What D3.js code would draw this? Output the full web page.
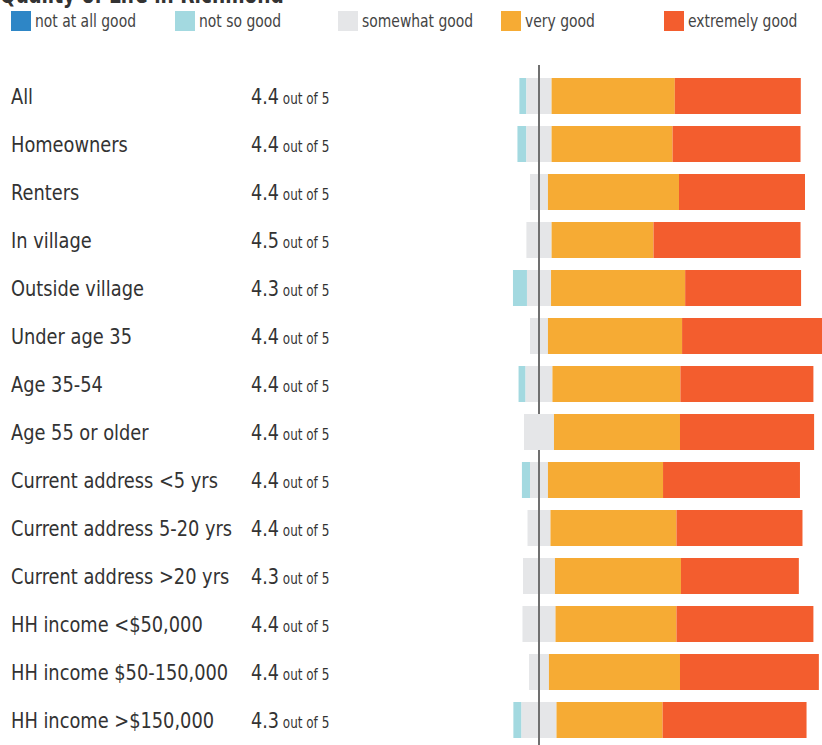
<!DOCTYPE html>
<html>
<head>
<meta charset="utf-8">
<script src="https://cdn.jsdelivr.net/npm/d3@7"></script>
<style>
  body { margin: 0; background: #fff; }
  svg text { font-family: "DejaVu Sans Condensed", "DejaVu Sans", sans-serif; fill: #333; }
</style>
</head>
<body>
<div id="chart"></div>
<script>
// Quality of Life in Richmond - diverging stacked bars

const groups = ['All', 'Homeowners', 'Renters', 'In village', 'Outside village',
  'Under age 35', 'Age 35-54', 'Age 55 or older', 'Current address <5 yrs',
  'Current address 5-20 yrs', 'Current address >20 yrs', 'HH income <$50,000',
  'HH income $50-150,000', 'HH income >$150,000'];
const scores = [4.4, 4.4, 4.4, 4.5, 4.3, 4.4, 4.4, 4.4, 4.4, 4.4, 4.3, 4.4, 4.4, 4.3];

const categories = ['not at all good', 'not so good', 'somewhat good', 'very good', 'extremely good'];
const colors = ['#2e86c6', '#a3d9e0', '#e5e6e8', '#f6ab34', '#f35d2e'];

// percentages per group
const notAtAllGood  = [0, 0, 0, 0, 0, 0, 0, 0, 0, 0, 0, 0, 0, 0];
const notSoGood     = [2.5, 3.2, 0, 0, 5, 0, 2.5, 0, 2.9, 0, 0, 0, 0, 2.9];
const somewhatGood  = [9, 9, 6.4, 9, 8.6, 6.4, 9.6, 10.7, 6.4, 8.2, 11.4, 11.8, 7.1, 12.5];
const veryGood      = [44, 43.2, 46.8, 36.4, 47.9, 47.9, 45.7, 45, 41.1, 45, 45, 43.2, 46.8, 37.9];
const extremelyGood = [45, 45.7, 45, 52.5, 41.4, 50, 47.5, 47.9, 48.9, 45, 42.1, 48.9, 49.6, 51.4];

const width = 822, height = 745;
const margin = {top: 78, bottom: 7};

const svg = d3.select('#chart').append('svg')
  .attr('width', width)
  .attr('height', height);

// title (cut off at the top in the original)
svg.append('text')
  .attr('transform', 'translate(0,3) scale(0.86,1)')
  .style('font-weight', 'bold')
  .style('font-size', '24px')
  .text('Quality of Life in Richmond');

// legend
const legendX = [11, 175, 338, 501, 664];
const legend = svg.append('g').selectAll('g')
  .data(categories)
  .enter().append('g')
  .attr('transform', (d, i) => `translate(${legendX[i]},11)`);
legend.append('rect')
  .attr('width', 20).attr('height', 20)
  .attr('fill', (d, i) => colors[i]);
legend.append('text')
  .attr('transform', 'translate(24,16) scale(0.91,1)')
  .style('font-size', '17px')
  .style('fill', '#444')
  .text(d => d);

const y = d3.scaleBand()
  .domain(groups)
  .range([margin.top - 6, margin.top - 6 + groups.length * 48])
  .paddingInner(0.25)
  .paddingOuter(0.125);

const x = d3.scaleLinear()
  .domain([0, 100])
  .range([539, 539 + 280]);

const rows = groups.map((g, i) => {
  const vals = [notAtAllGood[i], notSoGood[i], somewhatGood[i], veryGood[i], extremelyGood[i]];
  let start = -(vals[0] + vals[1] + vals[2] / 2);
  const segs = vals.map((v, k) => {
    const s = {x0: start, x1: start + v, k: k};
    start += v;
    return s;
  });
  return {group: g, score: scores[i], segs: segs};
});

const barsG = svg.append('g');

// center line
svg.append('line')
  .attr('x1', x(0)).attr('x2', x(0))
  .attr('y1', 65).attr('y2', height)
  .attr('stroke', '#707070')
  .attr('stroke-width', 2);

const rowG = svg.append('g').selectAll('g')
  .data(rows)
  .enter().append('g');

rowG.each(function(d) {
  const g = d3.select(this);
  // in the original this one bar sits above the center line
  const target = d.group === 'Age 55 or older' ? g : barsG.append('g');
  target.selectAll('rect')
    .data(d.segs.filter(s => s.x1 > s.x0))
    .enter().append('rect')
    .attr('x', s => x(s.x0))
    .attr('width', s => x(s.x1) - x(s.x0))
    .attr('y', y(d.group))
    .attr('height', y.bandwidth())
    .attr('fill', s => colors[s.k]);
});

rowG.append('text')
  .attr('transform', d => `translate(11,${y(d.group) + y.bandwidth() / 2 + 8}) scale(0.9,1)`)
  .style('font-size', '22px')
  .text(d => d.group);

const scoreText = rowG.append('text')
  .attr('transform', d => `translate(251,${y(d.group) + y.bandwidth() / 2 + 8}) scale(0.89,1)`)
  .style('font-size', '22px');
scoreText.append('tspan').text(d => d.score.toFixed(1));
scoreText.append('tspan').style('font-size', '15px').text(' out of 5');
</script>
</body>
</html>
